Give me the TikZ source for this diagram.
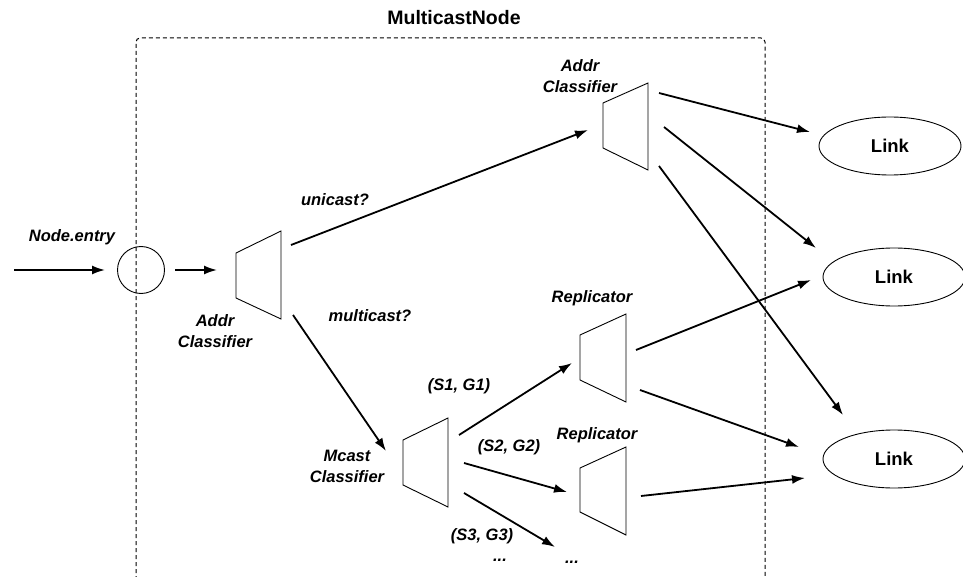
\documentclass[tikz,border=0pt]{standalone}
\usepackage{fontspec}
\setmainfont{Liberation Sans}
\usetikzlibrary{arrows.meta,shapes.geometric}

\begin{document}
\begin{tikzpicture}[x=1pt,y=-1pt,
  flow/.style={line width=1.8pt,-{Latex[length=13pt,width=9pt]}},
  trap/.style={line width=0.9pt},
  lbl/.style={font=\fontsize{16.5}{21}\selectfont\bfseries\itshape,align=center,inner sep=0pt},
  linkbox/.style={draw,line width=0.9pt,ellipse,minimum width=142pt,minimum height=58pt,
    inner sep=0pt,font=\fontsize{18.5}{21}\selectfont\bfseries}]
\useasboundingbox (0,0) rectangle (963,577);

% enclosing node boundary
\draw[line width=1pt,dash pattern=on 4pt off 3pt,rounded corners=4pt]
  (136,580) -- (136,38) -- (765,38) -- (765,580);
\node[font=\fontsize{19.5}{21}\selectfont\bfseries,inner sep=0pt] (title) at (454,18) {MulticastNode};

% entry point
\node[draw,circle,line width=0.9pt,minimum size=47pt,inner sep=0pt] (entry) at (141,270) {};
\node[lbl] (entrylbl) at (72,237) {Node.entry};

% classifiers and replicators (trapezoids)
\draw[trap] (236,253) -- (281,231) -- (281,319) -- (236,298) -- cycle;
\draw[trap] (603,103) -- (648,83) -- (648,170) -- (603,148) -- cycle;
\draw[trap] (403,440) -- (448,418) -- (448,507) -- (403,485) -- cycle;
\draw[trap] (580,335) -- (626,314) -- (626,402) -- (580,380) -- cycle;
\draw[trap] (580,468) -- (626,447) -- (626,535) -- (580,512) -- cycle;

\node[lbl] (addrL) at (215,331) {Addr\\Classifier};
\node[lbl] (addrT) at (580,76) {Addr\\Classifier};
\node[lbl] (mcast) at (347,466) {Mcast\\Classifier};
\node[lbl] (rep1) at (592,298) {Replicator};
\node[lbl] (rep2) at (597,435) {Replicator};

% outgoing links
\node[linkbox] (link1) at (890,146) {Link};
\node[linkbox] (link2) at (894,277) {Link};
\node[linkbox] (link3) at (894,459) {Link};

% connector end points
\coordinate (in0) at (14,270);
\coordinate (in1) at (105,270);
\coordinate (e0) at (175,270);
\coordinate (e1) at (217,270);
\coordinate (u0) at (291,245);
\coordinate (u1) at (588,130);
\coordinate (m0) at (293,315);
\coordinate (m1) at (386,451);
\coordinate (s10) at (459,435);
\coordinate (s11) at (572,363);
\coordinate (s20) at (464,463);
\coordinate (s21) at (567,492);
\coordinate (s30) at (464,493);
\coordinate (s31) at (555,547);
\coordinate (a0) at (659,93);
\coordinate (a1) at (810,132);
\coordinate (b0) at (664,127);
\coordinate (b1) at (816,248);
\coordinate (c0) at (659,166);
\coordinate (c1) at (843,415);
\coordinate (d0) at (636,350);
\coordinate (d1) at (811,280);
\coordinate (f0) at (640,390);
\coordinate (f1) at (799,447);
\coordinate (g0) at (641,496);
\coordinate (g1) at (805,478);

\draw[flow] (in0) -- (in1);
\draw[flow] (e0) -- (e1);
\draw[flow] (u0) -- (u1);
\draw[flow] (m0) -- (m1);
\draw[flow] (s10) -- (s11);
\draw[flow] (s20) -- (s21);
\draw[flow] (s30) -- (s31);
\draw[flow] (a0) -- (a1);
\draw[flow] (b0) -- (b1);
\draw[flow] (c0) -- (c1);
\draw[flow] (d0) -- (d1);
\draw[flow] (f0) -- (f1);
\draw[flow] (g0) -- (g1);

% branch labels
\node[lbl] (uni) at (335,200) {unicast?};
\node[lbl] (multi) at (370,316) {multicast?};
\node[lbl] (sg1) at (459,386) {(S1, G1)};
\node[lbl] (sg2) at (509,447) {(S2, G2)};
\node[lbl] (sg3) at (482,536) {(S3, G3)};
\node[lbl,anchor=base] (dots1) at (500,561) {...};
\node[lbl,anchor=base] (dots2) at (572,563) {...};
\end{tikzpicture}
\end{document}
